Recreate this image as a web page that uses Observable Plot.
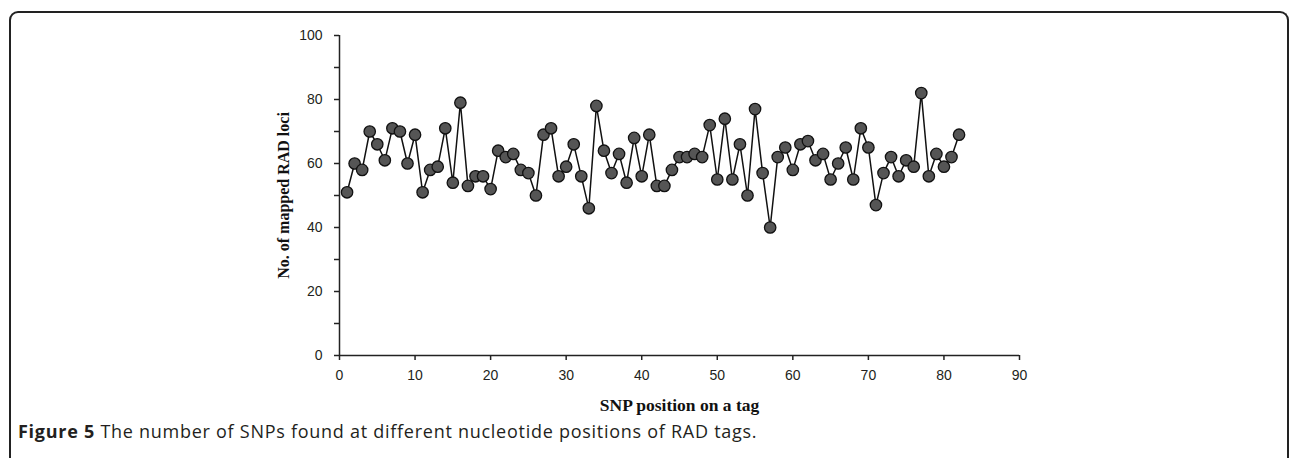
<!DOCTYPE html>
<html>
<head>
<meta charset="utf-8">
<script src="https://cdn.jsdelivr.net/npm/d3@7"></script>
<script src="https://cdn.jsdelivr.net/npm/@observablehq/plot@0.6"></script>
<style>
  html, body { margin: 0; padding: 0; background: #fff; }
  #wrap { position: relative; width: 1290px; height: 458px; overflow: hidden; background: #fff; }
  #frame { position: absolute; left: 9px; top: 11px; height: 500px;
           border-top: 2px solid #222; border-left: 2px solid #222; border-right: 2px solid #222;
           border-radius: 9px 9px 0 0; box-sizing: border-box; width: 1280px; }
  #chart { position: absolute; left: 0; top: 0; }
  #caption { position: absolute; left: 18px; top: 419px; font-family: "Open Sans", sans-serif;
             font-size: 18px; color: #231f20; white-space: nowrap; letter-spacing: 0.73px; }
  #caption b { font-weight: 700; }
</style>
</head>
<body>
<div id="wrap">
  <div id="frame"></div>
  <div id="chart"></div>
  <div id="caption"><b>Figure 5</b> The number of SNPs found at different nucleotide positions of RAD tags.</div>
</div>
<script>
const positions = d3.range(1, 83);
const lociCounts = [
  51, 60, 58, 70, 66, 61, 71, 70, 60, 69,
  51, 58, 59, 71, 54, 79, 53, 56, 56, 52,
  64, 62, 63, 58, 57, 50, 69, 71, 56, 59,
  66, 56, 46, 78, 64, 57, 63, 54, 68, 56,
  69, 53, 53, 58, 62, 62, 63, 62, 72, 55,
  74, 55, 66, 50, 77, 57, 40, 62, 65, 58,
  66, 67, 61, 63, 55, 60, 65, 55, 71, 65,
  47, 57, 62, 56, 61, 59, 82, 56, 63, 59,
  62, 69
];
const xTicks = [0, 10, 20, 30, 40, 50, 60, 70, 80, 90];
const yTicks = [0, 20, 40, 60, 80, 100];
const yMinorTicks = [0, 10, 20, 30, 40, 50, 60, 70, 80, 90, 100];
const xTitle = "SNP position on a tag";
const yTitle = "No. of mapped RAD loci";

const data = positions.map((p, i) => ({pos: p, count: lociCounts[i]}));

const axisColor = "#222";
const chart = Plot.plot({
  width: 1290,
  height: 420,
  marginLeft: 339,
  marginRight: 271,
  marginTop: 35,
  marginBottom: 65,
  style: {background: "transparent", overflow: "visible"},
  x: {domain: [0, 90]},
  y: {domain: [0, 100]},
  marks: [
    Plot.axisY({ticks: yMinorTicks, tickFormat: () => "", tickSize: 5, stroke: axisColor, strokeWidth: 1.5, label: null}),
    Plot.axisY({ticks: yTicks, tickSize: 0, tickPadding: 17, fontSize: 14, fontFamily: "Liberation Sans, sans-serif", fill: "#231f20", label: null}),
    Plot.axisX({ticks: xTicks, tickSize: 5, tickPadding: 10, fontSize: 14, fontFamily: "Liberation Sans, sans-serif", fill: "#231f20", stroke: axisColor, strokeWidth: 1.5, label: null}),
    Plot.ruleX([0], {stroke: axisColor, strokeWidth: 1.5}),
    Plot.ruleY([0], {stroke: axisColor, strokeWidth: 1.5}),
    Plot.line(data, {x: "pos", y: "count", stroke: "#111", strokeWidth: 1.5}),
    Plot.dot(data, {x: "pos", y: "count", r: 5.7, fill: "#555", stroke: "#111", strokeWidth: 1.3}),
    Plot.text([xTitle], {frameAnchor: "bottom", text: d => d, dy: 55, fontSize: 17.5, fontWeight: "bold", fontFamily: "Liberation Serif, serif", fill: "#111"}),
    Plot.text([yTitle], {frameAnchor: "left", textAnchor: "middle", text: d => d, dx: -56, rotate: -90, fontSize: 16, fontWeight: "bold", fontFamily: "Liberation Serif, serif", fill: "#111"})
  ]
});
document.getElementById("chart").appendChild(chart);
</script>
</body>
</html>
